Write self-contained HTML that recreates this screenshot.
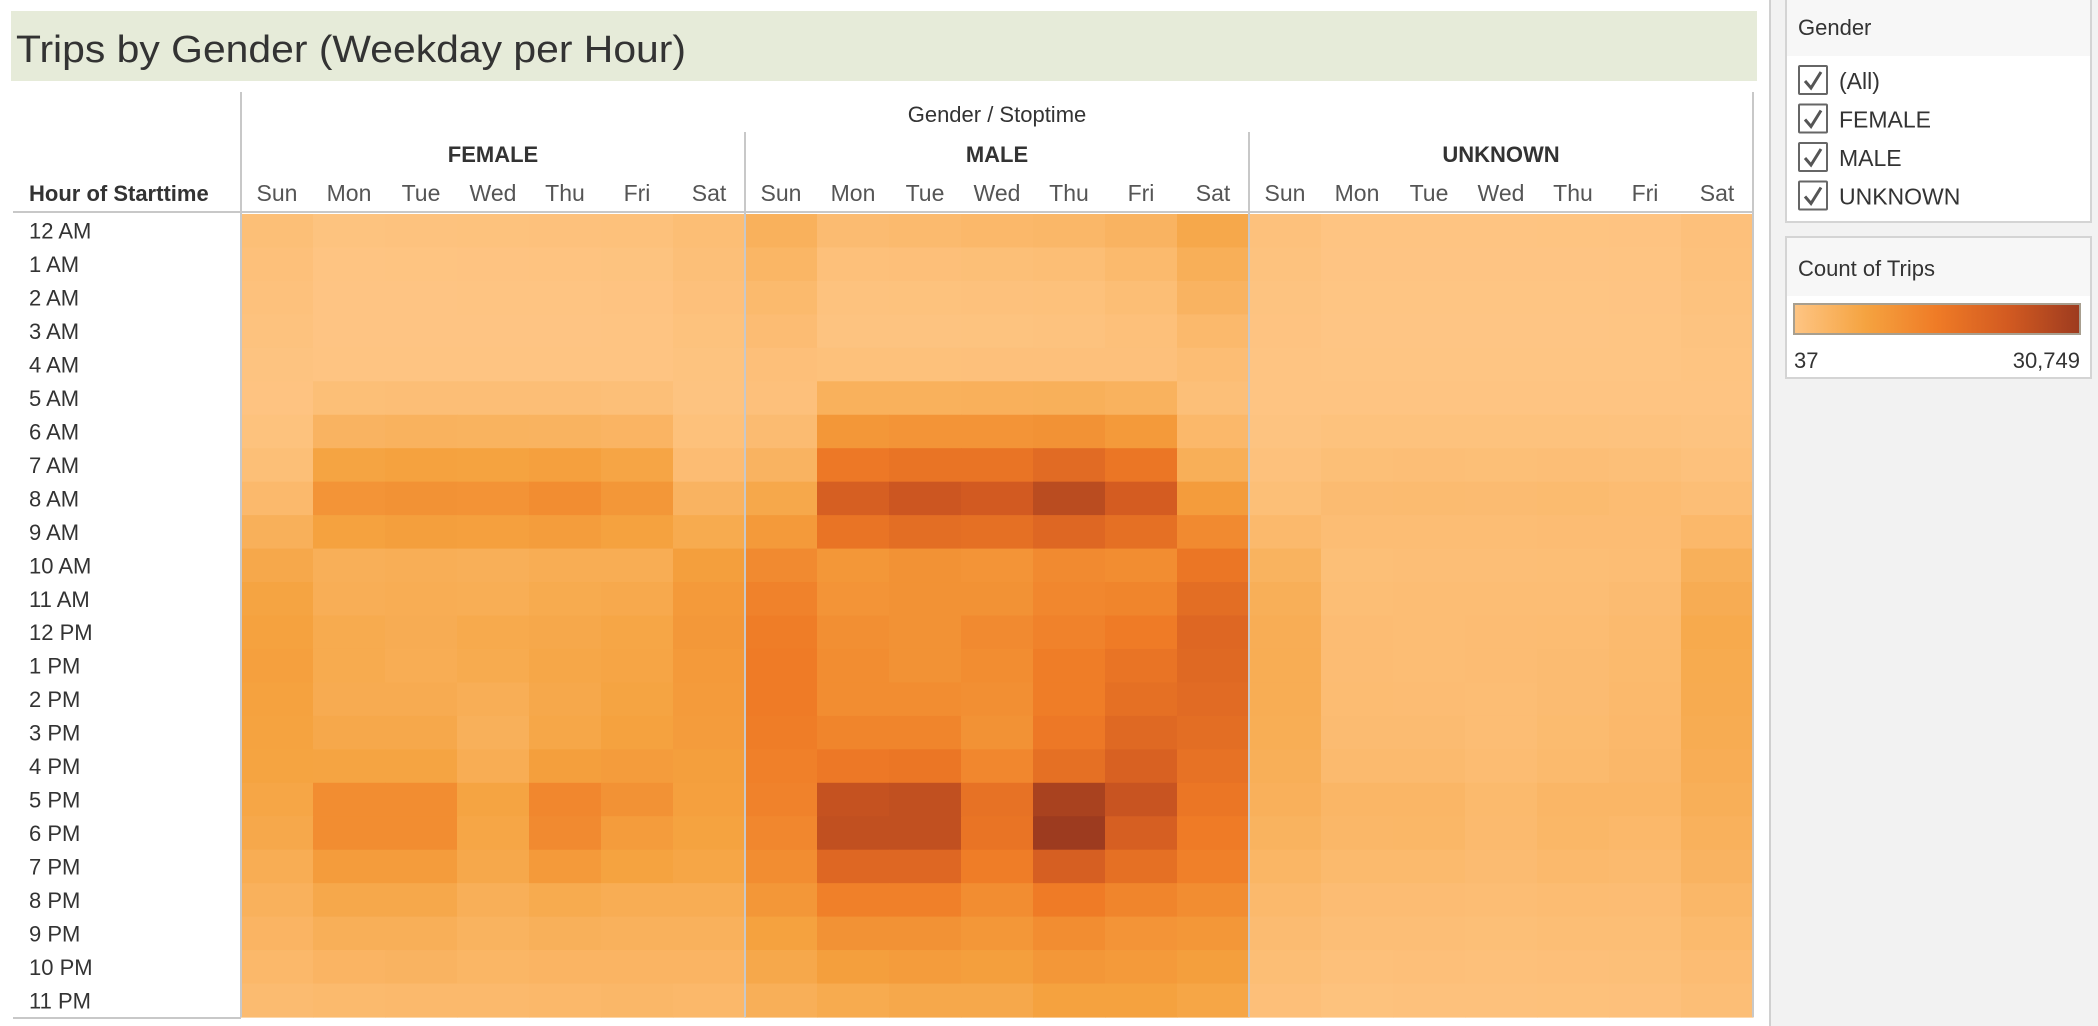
<!DOCTYPE html>
<html><head><meta charset="utf-8"><style>
html,body{margin:0;padding:0;background:#fff;width:2098px;height:1026px;overflow:hidden}
svg{display:block;font-family:"Liberation Sans",sans-serif}
</style></head><body>
<svg id="chart" width="2098" height="1026" viewBox="0 0 2098 1026">
<rect x="1770" y="0" width="328" height="1026" fill="#f2f2f2"/>
<line x1="1770" y1="0" x2="1770" y2="1026" stroke="#d0d0d0" stroke-width="2"/>
<rect x="11" y="11" width="1746" height="70" fill="#e6ebd9"/>
<text x="16" y="62" font-size="38" fill="#333" textLength="670" lengthAdjust="spacingAndGlyphs">Trips by Gender (Weekday per Hour)</text>
<g id="headers"></g>
<g id="cells"></g>
<g id="grid"></g>
<g>
<rect x="1786" y="-2" width="305" height="224" fill="#fff" stroke="#d4d4d4" stroke-width="2"/>
<rect x="1787" y="0" width="303" height="56" fill="#f7f7f7"/>
<text x="1798" y="35" font-size="22" fill="#333">Gender</text>
<g id="checks"></g>
</g>
<g>
<rect x="1786" y="237" width="305" height="141" fill="#fff" stroke="#d4d4d4" stroke-width="2"/>
<rect x="1787" y="238" width="303" height="58" fill="#f7f7f7"/>
<text x="1798" y="276" font-size="22" fill="#333">Count of Trips</text>
<defs><linearGradient id="grad" x1="0" x2="1" y1="0" y2="0">
<stop offset="0" stop-color="#fec584"/><stop offset="0.25" stop-color="#f5a340"/><stop offset="0.5" stop-color="#ef7b26"/><stop offset="0.75" stop-color="#d25a21"/><stop offset="1" stop-color="#9d3b1f"/></linearGradient></defs>
<rect x="1794" y="304" width="286" height="30" fill="url(#grad)" stroke="#a89f8f" stroke-width="2"/>
<text x="1794" y="368" font-size="22" fill="#333">37</text>
<text x="2080" y="368" font-size="22" fill="#333" text-anchor="end">30,749</text>
</g>
</svg>
<script>
const hours=["12 AM","1 AM","2 AM","3 AM","4 AM","5 AM","6 AM","7 AM","8 AM","9 AM","10 AM","11 AM","12 PM","1 PM","2 PM","3 PM","4 PM","5 PM","6 PM","7 PM","8 PM","9 PM","10 PM","11 PM"];
const days=["Sun","Mon","Tue","Wed","Thu","Fri","Sat"];
const genders=["FEMALE","MALE","UNKNOWN"];
const minVal=37, maxVal=30749;
const female=[
[1500,600,700,800,900,1000,1700],[1200,300,350,400,450,600,1400],[900,200,200,250,300,400,1100],[700,150,150,200,200,300,800],
[500,300,300,300,300,300,600],[400,1500,1600,1600,1600,1400,500],[800,4000,4300,4200,4100,3800,1000],[1500,7500,8000,7800,8200,7200,2000],
[2800,10500,11000,10800,12000,10000,4000],[4800,8000,8500,8300,8800,8000,6000],[6500,5000,5200,5000,5500,5500,8500],[7500,5200,5500,5300,6000,6300,9500],
[8000,6000,5600,6200,6500,7000,9800],[8200,6000,5500,6000,6800,7200,9500],[8000,5800,5800,5200,6500,7500,9300],[7800,6500,6500,4800,6800,8000,9000],
[7600,7500,7500,5500,8500,9000,8500],[7000,12000,12000,7500,13000,11000,8200],[6500,12000,12000,7000,12500,9000,7800],[5500,9000,9000,6500,9500,7800,7000],
[4500,6500,6500,5000,6000,5500,5500],[3800,5000,5000,4200,4800,4500,4500],[3000,3800,4000,3500,3800,3800,3800],[2300,2600,2800,2800,3000,3200,3000]];
const male=[
[4500,2200,2500,3000,3200,4000,6500],[3500,1200,1300,1500,1700,2600,5000],[2600,700,800,900,1000,1700,4000],[2000,500,500,600,700,1200,2800],
[1300,1000,1000,1100,1100,1100,1800],[1100,4500,4600,4700,4800,4300,1400],[2200,10000,10500,10500,11000,9500,3000],[4000,16000,17000,17000,19000,16500,5000],
[6500,22000,24000,23000,26500,22500,9000],[9500,17000,18500,18000,20000,18000,12500],[12500,10000,11000,10500,12500,12000,16500],[14000,10500,11000,11000,13000,13500,18500],
[15000,11500,11000,12500,14000,15500,20000],[15500,12000,11000,12000,15000,17000,19500],[15500,12000,12000,11500,15000,18000,19000],[15000,13500,13500,11000,16000,19500,18500],
[14500,16000,16500,13000,18000,21500,17500],[14000,25000,25500,17500,29000,24500,16500],[13000,25500,25500,17000,30749,22000,15500],[12000,20000,20000,15000,22000,18000,14500],
[10000,14500,14500,12000,15500,13500,12000],[8000,11000,11000,10000,12000,10500,10000],[6500,8500,9000,8500,10000,9500,8500],[5000,6000,6500,6500,8000,8000,7000]];
const unknown=[
[900,300,300,300,350,400,1100],[700,150,150,200,200,250,900],[500,100,100,100,120,150,700],[400,80,80,80,80,100,500],
[300,100,100,100,100,100,350],[300,300,300,300,300,300,300],[500,800,800,800,800,700,500],[900,1500,1600,1500,1600,1400,900],
[1500,2200,2300,2200,2400,2100,1600],[2800,1800,1900,1900,2000,2000,3000],[4200,1500,1600,1600,1700,1900,4800],[5000,1700,1800,1800,1900,2200,5600],
[5400,2000,1900,2000,2100,2500,6200],[5500,2000,1900,2000,2200,2600,6000],[5500,2100,2000,1900,2200,2700,5900],[5300,2200,2200,1900,2400,2900,5700],
[5000,2500,2500,2100,2600,3100,5400],[4700,3400,3400,2600,3400,3400,5000],[4200,3200,3300,2500,3300,3000,4600],[3500,2600,2600,2200,2700,2500,4000],
[2800,2000,2000,1800,2100,2000,3200],[2200,1600,1600,1500,1700,1700,2600],[1700,1200,1300,1200,1300,1400,2000],[1300,800,900,900,1000,1100,1600]];
const filterItems=["(All)","FEMALE","MALE","UNKNOWN"];

const NS="http://www.w3.org/2000/svg";
const X0=241,X1=1753,Y0=214,Y1=1017;
const colW=(X1-X0)/21,rowH=(Y1-Y0)/24;
const xCol=(g,d)=>X0+(g*7+d)*colW;
const yRow=h=>Y0+h*rowH;
const stops=[[0,[254,197,132]],[0.25,[245,163,64]],[0.5,[239,123,38]],[0.75,[210,90,33]],[1,[157,59,31]]];
function color(v){let t=Math.max(0,Math.min(1,(v-minVal)/(maxVal-minVal)));
 for(let i=1;i<stops.length;i++){if(t<=stops[i][0]){const a=stops[i-1],b=stops[i],f=(t-a[0])/(b[0]-a[0]);
 return "rgb("+a[1].map((c,k)=>Math.round(c+(b[1][k]-c)*f)).join(",")+")";}}return "rgb(157,59,31)";}
function mk(tag,attrs,parent,text){const e=document.createElementNS(NS,tag);for(const k in attrs)e.setAttribute(k,attrs[k]);if(text!==undefined)e.textContent=text;parent.appendChild(e);return e;}

const cells=document.getElementById("cells");
[female,male,unknown].forEach((data,g)=>{
 data.forEach((row,h)=>{row.forEach((v,d)=>{
  const r=mk("rect",{x:xCol(g,d),y:yRow(h),width:colW+0.6,height:rowH+0.6,fill:color(v)},cells);
  
  
 });});
});

const hd=document.getElementById("headers");
const t1=mk("text",{x:997,y:122,"font-size":22,fill:"#333","text-anchor":"middle"},hd,"Gender / Stoptime");


const t2=mk("text",{x:29,y:201,"font-size":22,"font-weight":"bold",fill:"#333"},hd,"Hour of Starttime");


genders.forEach((g,i)=>{
 const t=mk("text",{x:X0+(i*7+3.5)*colW,y:162,"font-size":22,"font-weight":"bold",fill:"#333","text-anchor":"middle"},hd,g);
 
 
 days.forEach((d,j)=>{
  const dt=mk("text",{x:xCol(i,j)+colW/2,y:201,"font-size":23,fill:"#555","text-anchor":"middle"},hd,d);
  
  
 });
});
hours.forEach((h,i)=>{
 const t=mk("text",{x:29,y:yRow(i)+rowH/2+8,"font-size":22,fill:"#333"},hd,h);
 
 
});

const gr=document.getElementById("grid");
mk("line",{x1:13,y1:212,x2:X1,y2:212,stroke:"#c8c8c8","stroke-width":2},gr);
mk("line",{x1:13,y1:1018,x2:X0,y2:1018,stroke:"#c8c8c8","stroke-width":2},gr);
mk("line",{x1:X0,y1:92,x2:X0,y2:Y1,stroke:"#c8c8c8","stroke-width":2},gr);
mk("line",{x1:X1,y1:92,x2:X1,y2:Y1,stroke:"#c8c8c8","stroke-width":2},gr);
[1,2].forEach(g=>mk("line",{x1:xCol(g,0),y1:132,x2:xCol(g,0),y2:Y1,stroke:"#c8c8c8","stroke-width":2},gr));

const ck=document.getElementById("checks");
filterItems.forEach((it,i)=>{
 const cy=80+i*38.5;
 const b=mk("rect",{x:1799,y:cy-14,width:28,height:28,fill:"#fff",stroke:"#666","stroke-width":2,rx:1},ck);
 
 
 mk("path",{d:`M${1805} ${cy+1} L${1811} ${cy+8} L${1821} ${cy-8}`,fill:"none",stroke:"#555","stroke-width":3},ck);
 const t=mk("text",{x:1839,y:cy+9,"font-size":23,fill:"#333"},ck,it);
 
 
});
</script>
</body></html>
